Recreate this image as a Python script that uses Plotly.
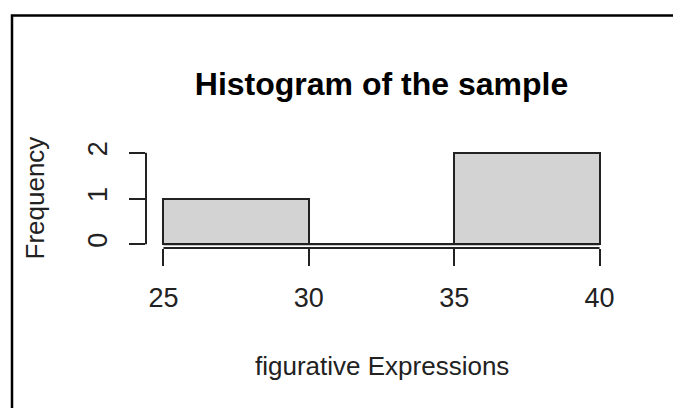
import plotly.graph_objects as go

# Data
breaks = [25, 30, 35, 40]
counts = [1, 0, 2]
x_ticks = [25, 30, 35, 40]
y_ticks = [0, 1, 2]
title_text = "Histogram of the sample"
x_label = "figurative Expressions"
y_label = "Frequency"

W, H = 673, 408
ML, MR, MT, MB = 146, 56, 149, 160
PW, PH = W - ML - MR, H - MT - MB

mids = [(a + b) / 2 for a, b in zip(breaks[:-1], breaks[1:])]
widths = [b - a for a, b in zip(breaks[:-1], breaks[1:])]

FONT = "Liberation Sans, Arial, sans-serif"
INK = "#222222"

xspan = breaks[-1] - breaks[0]
ymax = max(counts)

fig = go.Figure()
fig.add_trace(go.Bar(
    x=mids, y=counts, width=widths,
    marker=dict(color="#D3D3D3", line=dict(color=INK, width=2)),
    hoverinfo="x+y", showlegend=False,
))
# baseline of the histogram (zero-height bins appear as a line in R)
fig.add_trace(go.Scatter(
    x=[breaks[0], breaks[-1]], y=[0, 0], mode="lines",
    line=dict(color=INK, width=2), hoverinfo="skip", showlegend=False,
))

def px_to_paper_x(px):
    return (px - ML) / PW

def px_to_paper_y(py):
    return (H - MB - py) / PH

shapes = [
    # y axis line (from first to last tick)
    dict(type="line", xref="paper", yref="y", x0=0, x1=0,
         y0=min(y_ticks), y1=max(y_ticks), line=dict(color=INK, width=2)),
    # x axis line (from first to last tick)
    dict(type="line", xref="x", yref="paper", x0=min(x_ticks), x1=max(x_ticks),
         y0=0, y1=0, line=dict(color=INK, width=2)),
    # outer frame
    dict(type="rect", xref="paper", yref="paper",
         x0=px_to_paper_x(12), x1=px_to_paper_x(W + 20),
         y0=px_to_paper_y(H + 20), y1=px_to_paper_y(15.5),
         line=dict(color="black", width=2.5), fillcolor="rgba(0,0,0,0)", layer="above"),
]

annotations = [
    dict(text=x_label, xref="paper", yref="paper", x=0.5, y=px_to_paper_y(366),
         xanchor="center", yanchor="middle", showarrow=False,
         font=dict(family=FONT, size=26, color=INK)),
    dict(text=y_label, xref="paper", yref="paper", x=px_to_paper_x(34), y=0.5,
         xanchor="center", yanchor="middle", showarrow=False, textangle=-90,
         font=dict(family=FONT, size=26, color=INK)),
]

fig.update_layout(
    width=W, height=H,
    margin=dict(l=ML, r=MR, t=MT, b=MB, autoexpand=False),
    paper_bgcolor="white", plot_bgcolor="white",
    title=dict(text="<b>" + title_text + "</b>", xref="paper", x=0.5, xanchor="center",
               yref="container", y=1 - 84 / H, yanchor="middle",
               font=dict(family=FONT, size=32, color="black")),
    shapes=shapes, annotations=annotations,
    bargap=0,
    xaxis=dict(range=[breaks[0] - 0.04 * xspan, breaks[-1] + 0.04 * xspan],
               tickmode="array", tickvals=x_ticks, ticktext=[str(v) for v in x_ticks],
               ticks="outside", ticklen=17, tickwidth=2, tickcolor=INK,
               showline=False, showgrid=False, zeroline=False,
               ticklabelstandoff=9,
               tickfont=dict(family=FONT, size=27, color=INK)),
    yaxis=dict(range=[-0.04 * ymax, ymax * 1.04],
               tickmode="array", tickvals=y_ticks, ticktext=[str(v) for v in y_ticks],
               ticks="outside", ticklen=16, tickwidth=2, tickcolor=INK, tickangle=-90,
               showline=False, showgrid=False, zeroline=False,
               ticklabelstandoff=11,
               tickfont=dict(family=FONT, size=27, color=INK)),
)

fig.write_html(
    "out.html",
    config={"displayModeBar": False},
    post_script="document.body.style.margin='0px';document.body.style.overflow='hidden';",
)
